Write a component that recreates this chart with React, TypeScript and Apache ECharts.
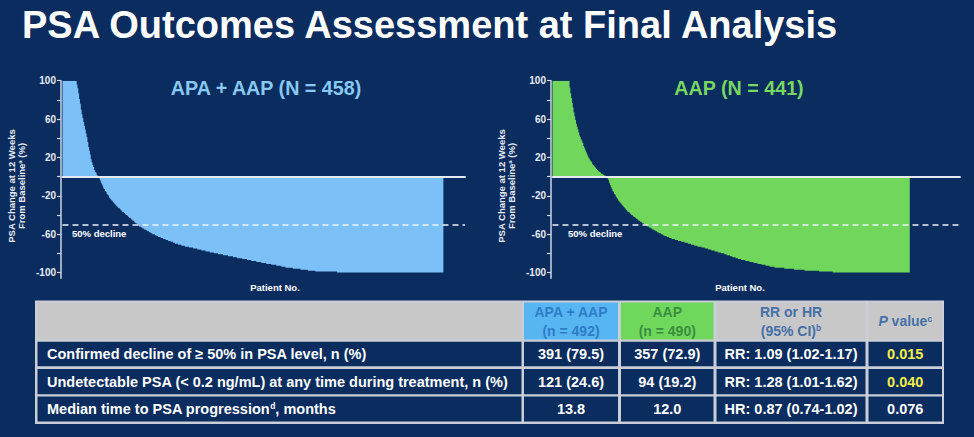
import React, { useEffect, useRef } from 'react';
import * as echarts from 'echarts';

// ---------- data ----------
const SLIDE_TITLE = 'PSA Outcomes Assessment at Final Analysis';
const PANEL_TITLES = ['APA + AAP (N = 458)', 'AAP (N = 441)'];
const Y_TICKS = [-100, -80, -60, -40, -20, 0, 20, 40, 60, 80, 100];
const Y_TICK_LABELS = [-100, -60, -20, 20, 60, 100];
const DECLINE_THRESHOLD = -50;

// PSA change at 12 weeks (%), sorted waterfall, APA + AAP arm (458 patients)
const APA_AAP_CHANGE = [
  100, 100, 100, 100, 100, 100, 100, 100, 100, 100,
  100, 100, 100, 100, 100, 100, 100, 96, 92, 87,
  81, 76, 70, 65, 61, 57, 53, 49, 45, 41,
  36, 31, 27, 23, 18, 15, 12, 10, 7, 5,
  4, 2, 1, 0, -2, -4, -6, -8, -10, -12,
  -13, -15, -16, -18, -19, -20, -22, -23, -24, -25,
  -26, -27, -28, -29, -30, -31, -32, -33, -33, -34,
  -35, -36, -37, -37, -38, -39, -40, -40, -41, -42,
  -43, -43, -44, -45, -46, -46, -47, -48, -49, -49,
  -50, -51, -52, -52, -53, -53, -54, -54, -55, -55,
  -56, -56, -57, -57, -58, -58, -59, -59, -60, -60,
  -60, -61, -61, -62, -62, -63, -63, -63, -64, -64,
  -64, -65, -65, -65, -66, -66, -66, -67, -67, -67,
  -68, -68, -68, -69, -69, -70, -70, -70, -70, -71,
  -71, -71, -71, -72, -72, -72, -72, -73, -73, -73,
  -73, -73, -74, -74, -74, -74, -74, -75, -75, -75,
  -75, -75, -76, -76, -76, -76, -76, -77, -77, -77,
  -77, -77, -78, -78, -78, -78, -78, -79, -79, -79,
  -79, -79, -80, -80, -80, -80, -80, -81, -81, -81,
  -81, -81, -81, -82, -82, -82, -82, -82, -82, -83,
  -83, -83, -83, -83, -83, -84, -84, -84, -84, -84,
  -85, -85, -85, -85, -85, -85, -86, -86, -86, -86,
  -86, -86, -87, -87, -87, -87, -87, -88, -88, -88,
  -88, -88, -88, -89, -89, -89, -89, -89, -89, -90,
  -90, -90, -90, -90, -90, -91, -91, -91, -91, -91,
  -91, -92, -92, -92, -92, -92, -92, -93, -93, -93,
  -93, -93, -93, -94, -94, -94, -94, -94, -95, -95,
  -95, -95, -95, -95, -95, -95, -95, -96, -96, -96,
  -96, -96, -96, -96, -96, -96, -97, -97, -97, -97,
  -97, -97, -97, -97, -97, -98, -98, -98, -98, -98,
  -98, -98, -98, -98, -99, -99, -99, -99, -99, -99,
  -99, -99, -99, -99, -99, -99, -99, -99, -99, -99,
  -99, -99, -99, -99, -99, -99, -99, -99, -99, -99,
  -100, -100, -100, -100, -100, -100, -100, -100, -100, -100,
  -100, -100, -100, -100, -100, -100, -100, -100, -100, -100,
  -100, -100, -100, -100, -100, -100, -100, -100, -100, -100,
  -100, -100, -100, -100, -100, -100, -100, -100, -100, -100,
  -100, -100, -100, -100, -100, -100, -100, -100, -100, -100,
  -100, -100, -100, -100, -100, -100, -100, -100, -100, -100,
  -100, -100, -100, -100, -100, -100, -100, -100, -100, -100,
  -100, -100, -100, -100, -100, -100, -100, -100, -100, -100,
  -100, -100, -100, -100, -100, -100, -100, -100, -100, -100,
  -100, -100, -100, -100, -100, -100, -100, -100, -100, -100,
  -100, -100, -100, -100, -100, -100, -100, -100, -100, -100,
  -100, -100, -100, -100, -100, -100, -100, -100, -100, -100,
  -100, -100, -100, -100, -100, -100, -100, -100,
];

// PSA change at 12 weeks (%), sorted waterfall, AAP arm (441 patients)
const AAP_CHANGE = [
  100, 100, 100, 100, 100, 100, 100, 100, 100, 100,
  100, 100, 100, 100, 100, 100, 100, 100, 100, 100,
  100, 93, 87, 82, 77, 72, 67, 63, 59, 55,
  52, 49, 46, 43, 41, 39, 37, 35, 32, 30,
  28, 26, 24, 22, 20, 19, 17, 16, 15, 13,
  12, 11, 10, 9, 8, 7, 6, 5, 5, 4,
  3, 3, 2, 2, 1, 1, 0, 0, -2, -4,
  -7, -9, -11, -13, -15, -16, -18, -19, -21, -22,
  -23, -25, -26, -27, -28, -29, -30, -31, -32, -33,
  -34, -35, -36, -37, -37, -38, -39, -40, -40, -41,
  -42, -42, -43, -44, -44, -45, -46, -46, -47, -47,
  -48, -49, -49, -50, -50, -51, -51, -52, -52, -53,
  -53, -54, -54, -55, -55, -56, -56, -57, -57, -58,
  -58, -59, -59, -59, -60, -60, -61, -61, -62, -62,
  -62, -63, -63, -63, -64, -64, -64, -65, -65, -65,
  -65, -66, -66, -66, -66, -67, -67, -67, -67, -68,
  -68, -68, -68, -69, -69, -69, -69, -70, -70, -70,
  -70, -71, -71, -71, -71, -72, -72, -72, -72, -73,
  -73, -73, -73, -73, -74, -74, -74, -74, -75, -75,
  -75, -75, -76, -76, -76, -76, -77, -77, -77, -77,
  -78, -78, -78, -78, -79, -79, -79, -79, -80, -80,
  -80, -80, -81, -81, -81, -82, -82, -82, -82, -83,
  -83, -83, -84, -84, -84, -84, -85, -85, -85, -86,
  -86, -86, -86, -87, -87, -87, -87, -87, -88, -88,
  -88, -88, -88, -89, -89, -89, -89, -89, -90, -90,
  -90, -90, -90, -91, -91, -91, -91, -91, -92, -92,
  -92, -92, -92, -93, -93, -93, -93, -93, -94, -94,
  -94, -94, -94, -94, -95, -95, -95, -95, -95, -95,
  -95, -95, -95, -95, -95, -95, -96, -96, -96, -96,
  -96, -96, -96, -96, -96, -96, -96, -96, -97, -97,
  -97, -97, -97, -97, -97, -97, -97, -97, -97, -97,
  -97, -98, -98, -98, -98, -98, -98, -98, -98, -98,
  -98, -98, -98, -98, -98, -98, -98, -98, -98, -99,
  -99, -99, -99, -99, -99, -99, -99, -99, -99, -99,
  -99, -99, -99, -99, -99, -99, -100, -100, -100, -100,
  -100, -100, -100, -100, -100, -100, -100, -100, -100, -100,
  -100, -100, -100, -100, -100, -100, -100, -100, -100, -100,
  -100, -100, -100, -100, -100, -100, -100, -100, -100, -100,
  -100, -100, -100, -100, -100, -100, -100, -100, -100, -100,
  -100, -100, -100, -100, -100, -100, -100, -100, -100, -100,
  -100, -100, -100, -100, -100, -100, -100, -100, -100, -100,
  -100, -100, -100, -100, -100, -100, -100, -100, -100, -100,
  -100, -100, -100, -100, -100, -100, -100, -100, -100, -100,
  -100, -100, -100, -100, -100, -100, -100, -100, -100, -100,
  -100,
];

// table
const HEADER_ARMS = [['APA + AAP', '(n = 492)'], ['AAP', '(n = 490)']];
const HEADER_RATIO = ['RR or HR', '(95% CI){s|b}'];
const HEADER_P = '{i|P}{n| value}{s|c}';
const ROW_LABELS = [
  'Confirmed decline of ≥ 50% in PSA level, n (%)',
  'Undetectable PSA (< 0.2 ng/mL) at any time during treatment, n (%)',
  'Median time to PSA progression{s|d}, months',
];
const APA_AAP_COL = ['391 (79.5)', '121 (24.6)', '13.8'];
const AAP_COL = ['357 (72.9)', '94 (19.2)', '12.0'];
const RATIO_COL = ['RR: 1.09 (1.02-1.17)', 'RR: 1.28 (1.01-1.62)', 'HR: 0.87 (0.74-1.02)'];
const P_COL = ['0.015', '0.040', '0.076'];
const P_SIGNIFICANT = [true, true, false];

// ---------- styling ----------
const FONT = '"Liberation Sans", Arial, Helvetica, sans-serif';
const BG = '#0b2c5e';
const BLUE = '#7bc0f6';
const GREEN = '#70d75c';
const AXIS = '#cfd6e3';

export default function App() {
  const ref = useRef<HTMLDivElement>(null);

  useEffect(() => {
    if (!ref.current) return;
    const chart = echarts.init(ref.current, null, { renderer: 'svg' });

    const panels = [
      { data: APA_AAP_CHANGE, color: BLUE, left: 62.5, width: 402.5, xMax: 483 },
      { data: AAP_CHANGE, color: GREEN, left: 552.5, width: 407.5, xMax: 502 },
    ];

    const grid = panels.map((p) => ({ left: p.left, top: 80.7, width: p.width, height: 197.6 }));
    const xAxis = panels.map((p, i) => ({
      gridIndex: i,
      type: 'category',
      data: p.data.map((_, k) => k + 1),
      max: p.xMax,
      boundaryGap: true,
      axisLine: { show: true, lineStyle: { color: AXIS, width: 2 } },
      axisTick: { show: false },
      axisLabel: { show: false },
      splitLine: { show: false },
    }));
    const yAxis = panels.map((_, i) => ({
      gridIndex: i,
      type: 'value',
      min: -106,
      max: 100,
      offset: 1.5,
      axisLine: { show: true, lineStyle: { color: AXIS, width: 1.5 } },
      axisTick: { show: true, length: 4, customValues: Y_TICKS, lineStyle: { color: AXIS, width: 1.2 } },
      axisLabel: {
        customValues: Y_TICK_LABELS,
        color: '#e6ebf3',
        fontSize: 10,
        fontWeight: 'bold',
        fontFamily: FONT,
        margin: 5,
      },
      splitLine: { show: false },
    }));
    const series = panels.map((p, i) => ({
      type: 'bar',
      xAxisIndex: i,
      yAxisIndex: i,
      data: p.data,
      barCategoryGap: '0%',
      barGap: '0%',
      large: true,
      largeThreshold: 300,
      itemStyle: { color: p.color },
      markLine: {
        silent: true,
        symbol: 'none',
        label: { show: false },
        data: [
          { yAxis: 0, lineStyle: { color: '#e6ebf4', width: 2, type: 'solid' } },
          { yAxis: DECLINE_THRESHOLD, lineStyle: { color: '#eef2f8', width: 1.6, type: [6, 4] } },
        ],
      },
    }));

    const txt = (x: number, y: number, text: string, extra: any = {}, el: any = {}) => ({
      type: 'text',
      x,
      y,
      z: 20,
      ...el,
      style: {
        text,
        fill: '#ffffff',
        fontFamily: FONT,
        fontWeight: 'bold',
        fontSize: 12,
        align: 'center',
        verticalAlign: 'middle',
        ...extra,
      },
    });
    const rect = (x: number, y: number, w: number, h: number, fill: string) => ({
      type: 'rect',
      z: 10,
      shape: { x, y, width: w, height: h },
      style: { fill },
    });

    const graphics: any[] = [];
    graphics.push(txt(22, 25, SLIDE_TITLE, { fontSize: 38, align: 'left' }));
    graphics.push(txt(266, 88, PANEL_TITLES[0], { fontSize: 19.7, fill: '#88c9f3' }));
    graphics.push(txt(739, 88, PANEL_TITLES[1], { fontSize: 19.7, fill: '#78d760' }));

    const yName = 'PSA Change at 12 Weeks\nFrom Baseline{s|a} (%)';
    const yNameStyle = {
      fontSize: 9.5,
      lineHeight: 9.5,
      fill: '#e6ebf3',
      rich: { s: { fontSize: 6, verticalAlign: 'top', fill: '#e6ebf3', fontWeight: 'bold', fontFamily: FONT } },
    };
    graphics.push(txt(16.5, 186, yName, yNameStyle, { rotation: Math.PI / 2 }));
    graphics.push(txt(506.5, 186, yName, yNameStyle, { rotation: Math.PI / 2 }));
    graphics.push(txt(275, 287, 'Patient No.', { fontSize: 9.5 }));
    graphics.push(txt(740, 287, 'Patient No.', { fontSize: 9.5 }));
    graphics.push(txt(72, 233, '50% decline', { fontSize: 9.5, align: 'left' }));
    graphics.push(txt(568, 233, '50% decline', { fontSize: 9.5, align: 'left' }));

    // ---- table ----
    const cols = [
      { x: 37.5, w: 484 },
      { x: 524, w: 94 },
      { x: 621, w: 92.5 },
      { x: 716.5, w: 149 },
      { x: 868.5, w: 73.5 },
    ];
    const header = { y: 302.5, h: 37 };
    const rows = [
      { y: 341.8, h: 24.4 },
      { y: 368.9, h: 25.3 },
      { y: 396.6, h: 25 },
    ];
    graphics.push(rect(35, 300.5, 909, 123.5, '#c9ced7'));
    const headerFills = ['#c8c8c8', '#57b6f2', '#6fd75c', '#c8c8c8', '#c8c8c8'];
    cols.forEach((c, ci) => graphics.push(rect(c.x, header.y, c.w, header.h, headerFills[ci])));
    rows.forEach((r) => cols.forEach((c) => graphics.push(rect(c.x, r.y, c.w, r.h, BG))));

    const cx = (ci: number) => cols[ci].x + cols[ci].w / 2;
    const supRich = (fill: string) => ({
      s: { fontSize: 8.5, verticalAlign: 'top', fill, fontWeight: 'bold', fontFamily: FONT },
    });
    const hdrArmColors = ['#2f7cc6', '#3a8f3f'];
    HEADER_ARMS.forEach((lines, k) => {
      graphics.push(txt(cx(k + 1), 311.5, lines[0], { fontSize: 14, fill: hdrArmColors[k] }));
      graphics.push(txt(cx(k + 1), 330.5, lines[1], { fontSize: 14, fill: hdrArmColors[k] }));
    });
    const hdrGray = '#4670a8';
    graphics.push(txt(cx(3), 311.5, HEADER_RATIO[0], { fontSize: 14, fill: hdrGray }));
    graphics.push(txt(cx(3), 330.5, HEADER_RATIO[1], { fontSize: 14, fill: hdrGray, rich: supRich(hdrGray) }));
    graphics.push(
      txt(cx(4), 321, HEADER_P, {
        fontSize: 14,
        fill: hdrGray,
        rich: {
          i: { fontSize: 14, fontStyle: 'italic', fontWeight: 'bold', fill: hdrGray, fontFamily: FONT },
          n: { fontSize: 14, fontWeight: 'bold', fill: hdrGray, fontFamily: FONT },
          ...supRich(hdrGray),
        },
      })
    );

    rows.forEach((r, ri) => {
      const yc = r.y + r.h / 2;
      graphics.push(txt(47, yc, ROW_LABELS[ri], { fontSize: 14.5, align: 'left', rich: supRich('#ffffff') }));
      graphics.push(txt(cx(1), yc, APA_AAP_COL[ri], { fontSize: 14.5 }));
      graphics.push(txt(cx(2), yc, AAP_COL[ri], { fontSize: 14.5 }));
      graphics.push(txt(cx(3), yc, RATIO_COL[ri], { fontSize: 14.5 }));
      graphics.push(txt(cx(4), yc, P_COL[ri], { fontSize: 14.5, fill: P_SIGNIFICANT[ri] ? '#f3ef4c' : '#ffffff' }));
    });

    chart.setOption({
      animation: false,
      backgroundColor: BG,
      grid,
      xAxis,
      yAxis,
      series,
      graphic: { elements: graphics },
    } as any);

    return () => chart.dispose();
  }, []);

  return (
    <div
      ref={ref}
      style={{ position: 'absolute', left: 0, top: 0, width: 974, height: 437 }}
    />
  );
}
